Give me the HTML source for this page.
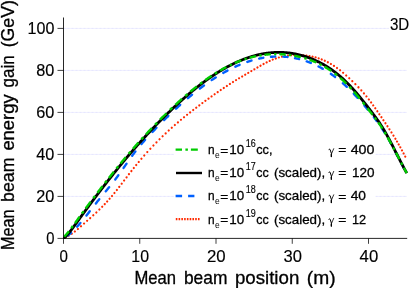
<!DOCTYPE html>
<html><head><meta charset="utf-8"><title>plot</title>
<style>html,body{margin:0;padding:0;background:#fff;overflow:hidden}body{width:409px;height:288px;position:relative;font-family:"Liberation Sans",sans-serif}</style></head>
<body>
<svg width="409" height="288" viewBox="0 0 409 288" style="position:absolute;left:0;top:0;display:block;will-change:transform">
<rect width="409" height="288" fill="#fff"/>
<line x1="63.5" x2="406.9" y1="196.40" y2="196.40" stroke="#f0f0ff" stroke-width="1"/>
<line x1="63.5" x2="406.9" y1="196.40" y2="196.40" stroke="#e6e6ff" stroke-width="1" stroke-dasharray="2 2"/>
<line x1="63.5" x2="406.9" y1="154.40" y2="154.40" stroke="#f0f0ff" stroke-width="1"/>
<line x1="63.5" x2="406.9" y1="154.40" y2="154.40" stroke="#e6e6ff" stroke-width="1" stroke-dasharray="2 2"/>
<line x1="63.5" x2="406.9" y1="112.40" y2="112.40" stroke="#f0f0ff" stroke-width="1"/>
<line x1="63.5" x2="406.9" y1="112.40" y2="112.40" stroke="#e6e6ff" stroke-width="1" stroke-dasharray="2 2"/>
<line x1="63.5" x2="406.9" y1="70.40" y2="70.40" stroke="#f0f0ff" stroke-width="1"/>
<line x1="63.5" x2="406.9" y1="70.40" y2="70.40" stroke="#e6e6ff" stroke-width="1" stroke-dasharray="2 2"/>
<line x1="63.5" x2="406.9" y1="28.40" y2="28.40" stroke="#f0f0ff" stroke-width="1"/>
<line x1="63.5" x2="406.9" y1="28.40" y2="28.40" stroke="#e6e6ff" stroke-width="1" stroke-dasharray="2 2"/>
<clipPath id="pc"><rect x="63" y="17" width="345" height="222"/></clipPath>
<g clip-path="url(#pc)" fill="none">
<path d="M65.64,237.46 L65.66,237.45 M68.71,235.83 L68.73,235.81 M71.78,233.81 L71.80,233.79 M74.85,231.49 L74.87,231.47 M77.92,228.96 L77.94,228.94 M80.99,226.29 L81.01,226.27 M84.06,223.57 L84.08,223.55 M87.13,220.84 L87.15,220.82 M90.20,218.10 L90.22,218.08 M93.27,215.31 L93.29,215.29 M96.34,212.46 L96.36,212.44 M99.38,209.55 L99.40,209.53 M102.19,206.76 L102.21,206.74 M104.75,204.11 L104.77,204.09 M107.17,201.51 L107.19,201.49 M109.59,198.79 L109.60,198.78 L109.61,198.77 M112.01,195.96 L112.03,195.94 M114.43,193.00 L114.45,192.98 M116.85,189.96 L116.87,189.94 M119.27,186.85 L119.29,186.83 M121.69,183.69 L121.71,183.67 M124.11,180.50 L124.13,180.48 M126.53,177.32 L126.55,177.29 M128.95,174.15 L128.97,174.13 M131.37,171.03 L131.39,171.00 M133.79,167.96 L133.81,167.94 M136.21,164.97 L136.23,164.95 M138.73,161.93 L138.75,161.91 M141.41,158.77 L141.43,158.75 M144.26,155.48 L144.28,155.46 M147.29,152.09 L147.31,152.07 M150.35,148.76 L150.37,148.74 M153.41,145.52 L153.43,145.50 M156.47,142.36 L156.49,142.34 M159.53,139.29 L159.55,139.27 M162.59,136.30 L162.60,136.29 L162.61,136.28 M165.65,133.38 L165.67,133.36 M168.71,130.54 L168.73,130.52 M171.77,127.77 L171.79,127.75 M174.83,125.06 L174.85,125.04 M177.89,122.42 L177.91,122.40 M180.95,119.83 L180.97,119.81 M184.01,117.30 L184.03,117.28 M187.07,114.82 L187.09,114.80 M190.13,112.39 L190.15,112.37 M193.19,110.01 L193.21,109.99 M196.25,107.66 L196.27,107.65 M199.31,105.36 L199.33,105.34 M202.37,103.09 L202.39,103.07 M205.43,100.84 L205.45,100.83 M208.49,98.63 L208.51,98.61 M211.55,96.44 L211.57,96.43 M214.61,94.28 L214.63,94.26 M217.67,92.15 L217.69,92.13 M220.73,90.05 L220.75,90.03 M223.79,87.98 L223.81,87.97 M226.85,85.96 L226.87,85.94 M229.91,83.97 L229.93,83.96 M232.97,82.03 L232.99,82.01 M236.03,80.13 L236.05,80.12 M239.09,78.28 L239.10,78.27 L239.11,78.27 M242.15,76.47 L242.17,76.45 M245.21,74.67 L245.23,74.66 M248.27,72.89 L248.29,72.88 M251.33,71.11 L251.35,71.10 M254.39,69.31 L254.41,69.30 M257.45,67.51 L257.47,67.50 M260.51,65.73 L260.53,65.72 M263.57,64.01 L263.59,64.00 M266.63,62.40 L266.65,62.38 M269.69,60.92 L269.71,60.91 M272.75,59.61 L272.77,59.60 M275.81,58.48 L275.83,58.47 M278.87,57.51 L278.89,57.51 M281.93,56.71 L281.95,56.71 M284.99,56.07 L285.01,56.07 M288.05,55.59 L288.07,55.59 M291.11,55.25 L291.13,55.25 M294.17,55.05 L294.19,55.05 M297.23,55.00 L297.25,55.00 M300.29,55.07 L300.31,55.07 M303.35,55.27 L303.37,55.27 M306.41,55.60 L306.43,55.60 M309.47,56.06 L309.49,56.06 M312.53,56.66 L312.55,56.67 M315.59,57.43 L315.60,57.43 L315.61,57.43 M318.65,58.35 L318.67,58.36 M321.71,59.46 L321.73,59.47 M324.77,60.75 L324.79,60.76 M327.83,62.23 L327.85,62.24 M330.89,63.92 L330.91,63.94 M333.95,65.83 L333.97,65.85 M337.01,67.96 L337.03,67.98 M340.07,70.29 L340.09,70.31 M343.13,72.80 L343.15,72.82 M346.19,75.46 L346.21,75.48 M349.25,78.25 L349.27,78.27 M352.31,81.15 L352.33,81.17 M355.37,84.14 L355.39,84.16 M358.42,87.25 L358.45,87.27 M361.29,90.33 L361.31,90.35 M363.92,93.33 L363.94,93.35 M366.45,96.37 L366.46,96.39 M368.85,99.43 L368.87,99.45 M371.12,102.44 L371.13,102.46 M373.23,105.37 L373.24,105.39 M375.27,108.28 L375.29,108.30 M377.32,111.24 L377.33,111.27 M379.35,114.23 L379.37,114.25 M381.39,117.22 L381.40,117.25 M383.41,120.22 L383.43,120.24 M385.44,123.22 L385.45,123.24 M387.46,126.24 L387.47,126.26 M389.47,129.30 L389.48,129.32 M391.48,132.42 L391.49,132.44 M393.48,135.60 L393.49,135.63 M395.38,138.72 L395.40,138.74 M397.06,141.54 L397.07,141.56 M398.70,144.40 L398.71,144.42 M400.35,147.34 L400.36,147.36 M401.98,150.35 L402.00,150.38 M403.62,153.45 L403.63,153.47 M405.25,156.62 L405.26,156.65" stroke="#ff2a00" stroke-width="2.2" stroke-linecap="round"/>
<path d="M67.75,235.57 L68.00,235.38 L68.50,234.98 L69.00,234.58 L69.50,234.16 L70.00,233.74 L70.50,233.30 L71.00,232.85 L71.05,232.81 M77.10,226.70 L77.50,226.27 L78.00,225.71 L78.50,225.14 L79.00,224.57 L79.50,223.99 L80.00,223.41 L80.40,222.95 M86.45,215.50 L86.50,215.44 L87.00,214.80 L87.50,214.17 L88.00,213.53 L88.50,212.89 L89.00,212.24 L89.50,211.60 L89.75,211.27 M95.85,203.45 L96.00,203.26 L96.50,202.63 L97.00,202.00 L97.50,201.37 L98.00,200.75 L98.50,200.13 L99.00,199.51 L99.26,199.19 M105.74,191.32 L106.00,191.00 L106.50,190.40 L107.00,189.79 L107.50,189.18 L108.00,188.57 L108.50,187.96 L109.00,187.35 L109.15,187.16 M115.25,179.46 L115.50,179.12 L116.00,178.46 L116.50,177.79 L117.00,177.12 L117.50,176.45 L118.00,175.76 L118.33,175.32 M123.57,167.92 L124.00,167.31 L124.50,166.59 L125.00,165.87 L125.50,165.16 L126.00,164.44 L126.50,163.72 L126.54,163.66 M132.21,155.70 L132.50,155.31 L133.00,154.63 L133.50,153.96 L134.00,153.30 L134.50,152.64 L135.00,151.99 L135.40,151.47 M141.45,144.04 L141.50,143.98 L142.00,143.40 L142.50,142.82 L143.00,142.24 L143.50,141.67 L144.00,141.11 L144.50,140.54 L145.00,139.98 L145.09,139.88 M152.41,132.00 L152.50,131.91 L153.00,131.38 L153.50,130.86 L154.00,130.34 L154.50,129.83 L155.00,129.31 L155.50,128.79 L156.00,128.28 L156.49,127.78 M164.16,120.04 L164.50,119.71 L165.00,119.22 L165.50,118.73 L166.00,118.24 L166.50,117.75 L167.00,117.26 L167.50,116.77 L168.00,116.29 L168.34,115.96 M176.01,108.70 L176.50,108.26 L177.00,107.80 L177.50,107.34 L178.00,106.88 L178.50,106.43 L179.00,105.97 L179.50,105.52 L180.00,105.07 L180.19,104.90 M187.91,98.17 L188.00,98.09 L188.50,97.67 L189.00,97.25 L189.50,96.83 L190.00,96.41 L190.50,96.00 L191.00,95.58 L191.50,95.17 L192.00,94.76 L192.09,94.68 M199.81,88.59 L200.00,88.44 L200.50,88.06 L201.00,87.68 L201.50,87.31 L202.00,86.93 L202.50,86.56 L203.00,86.19 L203.50,85.83 L203.99,85.47 M211.66,80.10 L212.00,79.87 L212.50,79.54 L213.00,79.21 L213.50,78.88 L214.00,78.56 L214.50,78.23 L215.00,77.91 L215.50,77.59 L215.78,77.41 M223.27,72.90 L223.50,72.77 L224.00,72.49 L224.50,72.21 L225.00,71.93 L225.50,71.65 L226.00,71.38 L226.50,71.11 L227.00,70.84 L227.45,70.60 M235.35,66.69 L235.50,66.62 L236.00,66.39 L236.50,66.17 L237.00,65.94 L237.50,65.73 L238.00,65.51 L238.50,65.29 L239.00,65.08 L239.50,64.87 L239.59,64.83 M247.31,61.91 L247.50,61.84 L248.00,61.67 L248.50,61.51 L249.00,61.35 L249.50,61.19 L250.00,61.03 L250.50,60.87 L251.00,60.72 L251.49,60.58 M259.16,58.60 L259.50,58.53 L260.00,58.42 L260.50,58.32 L261.00,58.22 L261.50,58.13 L262.00,58.03 L262.50,57.94 L263.00,57.85 L263.32,57.80 M270.93,56.82 L271.00,56.81 L271.50,56.77 L272.00,56.73 L272.50,56.69 L273.00,56.66 L273.50,56.63 L274.00,56.60 L274.50,56.58 L275.00,56.56 L275.22,56.55 M283.38,56.64 L283.50,56.65 L284.00,56.68 L284.50,56.71 L285.00,56.75 L285.50,56.79 L286.00,56.84 L286.50,56.88 L287.00,56.93 L287.50,56.99 L287.61,57.00 M294.99,58.15 L295.00,58.15 L295.50,58.25 L296.00,58.36 L296.50,58.47 L297.00,58.58 L297.50,58.69 L298.00,58.81 L298.50,58.93 L299.00,59.06 L299.07,59.08 M306.68,61.38 L307.00,61.49 L307.50,61.67 L308.00,61.86 L308.50,62.04 L309.00,62.23 L309.50,62.43 L310.00,62.62 L310.50,62.82 L310.84,62.96 M318.51,66.49 L319.00,66.74 L319.50,67.00 L320.00,67.26 L320.50,67.53 L321.00,67.80 L321.50,68.08 L322.00,68.36 L322.50,68.64 L322.78,68.80 M330.82,73.86 L331.00,73.98 L331.50,74.33 L332.00,74.68 L332.50,75.03 L333.00,75.39 L333.50,75.76 L334.00,76.12 L334.50,76.49 L335.00,76.87 L335.09,76.94 M342.81,83.22 L343.00,83.39 L343.50,83.83 L344.00,84.28 L344.50,84.73 L345.00,85.18 L345.50,85.64 L346.00,86.10 L346.50,86.57 L346.79,86.84 M353.73,93.76 L354.00,94.04 L354.50,94.56 L355.00,95.09 L355.50,95.62 L356.00,96.16 L356.50,96.70 L357.00,97.24 L357.50,97.79 L357.51,97.80 M364.45,105.66 L364.50,105.73 L365.00,106.31 L365.50,106.90 L366.00,107.49 L366.50,108.08 L367.00,108.68 L367.50,109.28 L367.93,109.79 M373.80,117.12 L374.00,117.39 L374.50,118.04 L375.00,118.70 L375.50,119.36 L376.00,120.04 L376.50,120.71 L376.75,121.06 M381.78,128.24 L382.00,128.58 L382.50,129.33 L383.00,130.10 L383.50,130.87 L384.00,131.66 L384.38,132.25 M388.92,139.82 L389.00,139.97 L389.50,140.85 L390.00,141.74 L390.50,142.65 L391.00,143.56 L391.29,144.10 M395.50,152.10 L396.00,153.07 L396.50,154.04 L397.00,155.01 L397.50,155.98 L397.74,156.44 M401.76,164.17 L402.00,164.62 L402.50,165.56 L403.00,166.48 L403.50,167.40 L403.94,168.20" stroke="#0060ff" stroke-width="2.4" stroke-linecap="round"/>
<path d="M63.50,238.40 L64.00,237.99 L64.50,237.57 L65.00,237.12 L65.50,236.64 L66.00,236.15 L66.50,235.64 L67.00,235.11 L67.50,234.56 L68.00,233.99 L68.50,233.41 L69.00,232.82 L69.50,232.21 L70.00,231.59 L70.50,230.96 L71.00,230.32 L71.50,229.66 L72.00,229.00 L72.50,228.33 L73.00,227.66 L73.50,226.98 L74.00,226.29 L74.50,225.60 L75.00,224.91 L75.50,224.22 L76.00,223.52 L76.50,222.83 L77.00,222.13 L77.50,221.44 L78.00,220.75 L78.50,220.06 L79.00,219.37 L79.50,218.68 L80.00,217.99 L80.50,217.30 L81.00,216.61 L81.50,215.92 L82.00,215.24 L82.50,214.55 L83.00,213.86 L83.50,213.18 L84.00,212.50 L84.50,211.81 L85.00,211.13 L85.50,210.45 L86.00,209.77 L86.50,209.09 L87.00,208.41 L87.50,207.74 L88.00,207.06 L88.50,206.38 L89.00,205.71 L89.50,205.03 L90.00,204.36 L90.50,203.69 L91.00,203.01 L91.50,202.34 L92.00,201.67 L92.50,201.00 L93.00,200.34 L93.50,199.67 L94.00,199.00 L94.50,198.34 L95.00,197.67 L95.50,197.01 L96.00,196.34 L96.50,195.68 L97.00,195.02 L97.50,194.36 L98.00,193.70 L98.50,193.04 L99.00,192.38 L99.50,191.73 L100.00,191.07 L100.50,190.42 L101.00,189.76 L101.50,189.11 L102.00,188.46 L102.50,187.81 L103.00,187.16 L103.50,186.51 L104.00,185.86 L104.50,185.21 L105.00,184.57 L105.50,183.92 L106.00,183.28 L106.50,182.64 L107.00,182.00 L107.50,181.35 L108.00,180.72 L108.50,180.08 L109.00,179.44 L109.50,178.80 L110.00,178.17 L110.50,177.53 L111.00,176.90 L111.50,176.27 L112.00,175.64 L112.50,175.01 L113.00,174.38 L113.50,173.75 L114.00,173.13 L114.50,172.50 L115.00,171.88 L115.50,171.26 L116.00,170.63 L116.50,170.01 L117.00,169.39 L117.50,168.78 L118.00,168.16 L118.50,167.54 L119.00,166.93 L119.50,166.32 L120.00,165.71 L120.50,165.09 L121.00,164.49 L121.50,163.88 L122.00,163.27 L122.50,162.66 L123.00,162.06 L123.50,161.46 L124.00,160.86 L124.50,160.26 L125.00,159.66 L125.50,159.06 L126.00,158.46 L126.50,157.87 L127.00,157.27 L127.50,156.68 L128.00,156.09 L128.50,155.50 L129.00,154.91 L129.50,154.32 L130.00,153.74 L130.50,153.15 L131.00,152.57 L131.50,151.99 L132.00,151.41 L132.50,150.83 L133.00,150.25 L133.50,149.68 L134.00,149.10 L134.50,148.53 L135.00,147.96 L135.50,147.39 L136.00,146.82 L136.50,146.25 L137.00,145.68 L137.50,145.12 L138.00,144.55 L138.50,143.99 L139.00,143.43 L139.50,142.87 L140.00,142.31 L140.50,141.75 L141.00,141.20 L141.50,140.64 L142.00,140.09 L142.50,139.54 L143.00,138.99 L143.50,138.44 L144.00,137.89 L144.50,137.34 L145.00,136.80 L145.50,136.25 L146.00,135.71 L146.50,135.17 L147.00,134.63 L147.50,134.09 L148.00,133.55 L148.50,133.02 L149.00,132.48 L149.50,131.95 L150.00,131.42 L150.50,130.88 L151.00,130.36 L151.50,129.83 L152.00,129.30 L152.50,128.77 L153.00,128.25 L153.50,127.73 L154.00,127.20 L154.50,126.68 L155.00,126.16 L155.50,125.64 L156.00,125.13 L156.50,124.61 L157.00,124.10 L157.50,123.58 L158.00,123.07 L158.50,122.56 L159.00,122.05 L159.50,121.54 L160.00,121.04 L160.50,120.53 L161.00,120.03 L161.50,119.52 L162.00,119.02 L162.50,118.52 L163.00,118.02 L163.50,117.52 L164.00,117.02 L164.50,116.53 L165.00,116.03 L165.50,115.54 L166.00,115.05 L166.50,114.56 L167.00,114.07 L167.50,113.58 L168.00,113.09 L168.50,112.60 L169.00,112.12 L169.50,111.64 L170.00,111.15 L170.50,110.67 L171.00,110.19 L171.50,109.71 L172.00,109.23 L172.50,108.76 L173.00,108.28 L173.50,107.81 L174.00,107.34 L174.50,106.86 L175.00,106.40 L175.50,105.93 L176.00,105.46 L176.50,104.99 L177.00,104.53 L177.50,104.07 L178.00,103.61 L178.50,103.15 L179.00,102.69 L179.50,102.23 L180.00,101.78 L180.50,101.32 L181.00,100.87 L181.50,100.42 L182.00,99.97 L182.50,99.52 L183.00,99.08 L183.50,98.63 L184.00,98.19 L184.50,97.75 L185.00,97.31 L185.50,96.87 L186.00,96.44 L186.50,96.00 L187.00,95.57 L187.50,95.14 L188.00,94.71 L188.50,94.28 L189.00,93.86 L189.50,93.43 L190.00,93.01 L190.50,92.59 L191.00,92.17 L191.50,91.75 L192.00,91.34 L192.50,90.92 L193.00,90.51 L193.50,90.10 L194.00,89.69 L194.50,89.29 L195.00,88.88 L195.50,88.48 L196.00,88.08 L196.50,87.68 L197.00,87.28 L197.50,86.88 L198.00,86.49 L198.50,86.10 L199.00,85.71 L199.50,85.32 L200.00,84.93 L200.50,84.55 L201.00,84.17 L201.50,83.79 L202.00,83.41 L202.50,83.03 L203.00,82.66 L203.50,82.28 L204.00,81.91 L204.50,81.54 L205.00,81.18 L205.50,80.81 L206.00,80.45 L206.50,80.09 L207.00,79.73 L207.50,79.37 L208.00,79.01 L208.50,78.66 L209.00,78.31 L209.50,77.96 L210.00,77.61 L210.50,77.27 L211.00,76.92 L211.50,76.58 L212.00,76.24 L212.50,75.91 L213.00,75.57 L213.50,75.24 L214.00,74.91 L214.50,74.58 L215.00,74.25 L215.50,73.93 L216.00,73.61 L216.50,73.29 L217.00,72.97 L217.50,72.65 L218.00,72.34 L218.50,72.03 L219.00,71.72 L219.50,71.41 L220.00,71.10 L220.50,70.80 L221.00,70.50 L221.50,70.20 L222.00,69.90 L222.50,69.61 L223.00,69.32 L223.50,69.03 L224.00,68.74 L224.50,68.46 L225.00,68.17 L225.50,67.89 L226.00,67.61 L226.50,67.34 L227.00,67.06 L227.50,66.79 L228.00,66.52 L228.50,66.26 L229.00,65.99 L229.50,65.73 L230.00,65.47 L230.50,65.21 L231.00,64.96 L231.50,64.70 L232.00,64.45 L232.50,64.20 L233.00,63.96 L233.50,63.71 L234.00,63.47 L234.50,63.23 L235.00,63.00 L235.50,62.76 L236.00,62.53 L236.50,62.30 L237.00,62.08 L237.50,61.85 L238.00,61.63 L238.50,61.41 L239.00,61.19 L239.50,60.98 L240.00,60.77 L240.50,60.56 L241.00,60.35 L241.50,60.15 L242.00,59.94 L242.50,59.74 L243.00,59.55 L243.50,59.35 L244.00,59.16 L244.50,58.97 L245.00,58.78 L245.50,58.60 L246.00,58.42 L246.50,58.24 L247.00,58.06 L247.50,57.89 L248.00,57.72 L248.50,57.55 L249.00,57.38 L249.50,57.22 L250.00,57.06 L250.50,56.90 L251.00,56.74 L251.50,56.59 L252.00,56.44 L252.50,56.29 L253.00,56.15 L253.50,56.01 L254.00,55.87 L254.50,55.73 L255.00,55.59 L255.50,55.46 L256.00,55.33 L256.50,55.21 L257.00,55.08 L257.50,54.96 L258.00,54.84 L258.50,54.73 L259.00,54.61 L259.50,54.50 L260.00,54.40 L260.50,54.29 L261.00,54.19 L261.50,54.09 L262.00,53.99 L262.50,53.90 L263.00,53.81 L263.50,53.72 L264.00,53.63 L264.50,53.55 L265.00,53.47 L265.50,53.39 L266.00,53.32 L266.50,53.24 L267.00,53.17 L267.50,53.11 L268.00,53.04 L268.50,52.98 L269.00,52.92 L269.50,52.87 L270.00,52.82 L270.50,52.77 L271.00,52.72 L271.50,52.68 L272.00,52.64 L272.50,52.60 L273.00,52.56 L273.50,52.53 L274.00,52.50 L274.50,52.47 L275.00,52.45 L275.50,52.43 L276.00,52.41 L276.50,52.39 L277.00,52.38 L277.50,52.37 L278.00,52.36 L278.50,52.36 L279.00,52.36 L279.50,52.36 L280.00,52.36 L280.50,52.37 L281.00,52.38 L281.50,52.40 L282.00,52.41 L282.50,52.43 L283.00,52.45 L283.50,52.48 L284.00,52.51 L284.50,52.54 L285.00,52.57 L285.50,52.61 L286.00,52.65 L286.50,52.69 L287.00,52.74 L287.50,52.79 L288.00,52.84 L288.50,52.89 L289.00,52.95 L289.50,53.01 L290.00,53.08 L290.50,53.14 L291.00,53.21 L291.50,53.29 L292.00,53.36 L292.50,53.44 L293.00,53.52 L293.50,53.61 L294.00,53.70 L294.50,53.79 L295.00,53.88 L295.50,53.98 L296.00,54.08 L296.50,54.19 L297.00,54.29 L297.50,54.40 L298.00,54.51 L298.50,54.63 L299.00,54.75 L299.50,54.87 L300.00,55.00 L300.50,55.13 L301.00,55.26 L301.50,55.39 L302.00,55.53 L302.50,55.67 L303.00,55.81 L303.50,55.96 L304.00,56.11 L304.50,56.27 L305.00,56.42 L305.50,56.58 L306.00,56.74 L306.50,56.91 L307.00,57.08 L307.50,57.25 L308.00,57.43 L308.50,57.61 L309.00,57.79 L309.50,57.97 L310.00,58.16 L310.50,58.36 L311.00,58.55 L311.50,58.75 L312.00,58.95 L312.50,59.15 L313.00,59.36 L313.50,59.57 L314.00,59.79 L314.50,60.01 L315.00,60.23 L315.50,60.45 L316.00,60.68 L316.50,60.91 L317.00,61.15 L317.50,61.38 L318.00,61.63 L318.50,61.87 L319.00,62.12 L319.50,62.37 L320.00,62.63 L320.50,62.89 L321.00,63.15 L321.50,63.42 L322.00,63.69 L322.50,63.97 L323.00,64.25 L323.50,64.53 L324.00,64.82 L324.50,65.11 L325.00,65.40 L325.50,65.70 L326.00,66.00 L326.50,66.31 L327.00,66.62 L327.50,66.93 L328.00,67.25 L328.50,67.58 L329.00,67.90 L329.50,68.23 L330.00,68.57 L330.50,68.91 L331.00,69.25 L331.50,69.60 L332.00,69.95 L332.50,70.31 L333.00,70.67 L333.50,71.04 L334.00,71.41 L334.50,71.78 L335.00,72.16 L335.50,72.55 L336.00,72.93 L336.50,73.33 L337.00,73.73 L337.50,74.13 L338.00,74.53 L338.50,74.95 L339.00,75.36 L339.50,75.78 L340.00,76.21 L340.50,76.64 L341.00,77.08 L341.50,77.52 L342.00,77.96 L342.50,78.41 L343.00,78.87 L343.50,79.33 L344.00,79.79 L344.50,80.27 L345.00,80.74 L345.50,81.22 L346.00,81.71 L346.50,82.20 L347.00,82.70 L347.50,83.20 L348.00,83.70 L348.50,84.22 L349.00,84.73 L349.50,85.25 L350.00,85.78 L350.50,86.31 L351.00,86.85 L351.50,87.39 L352.00,87.93 L352.50,88.48 L353.00,89.04 L353.50,89.59 L354.00,90.16 L354.50,90.72 L355.00,91.29 L355.50,91.87 L356.00,92.45 L356.50,93.03 L357.00,93.61 L357.50,94.20 L358.00,94.79 L358.50,95.39 L359.00,95.99 L359.50,96.59 L360.00,97.20 L360.50,97.81 L361.00,98.42 L361.50,99.04 L362.00,99.65 L362.50,100.27 L363.00,100.90 L363.50,101.52 L364.00,102.15 L364.50,102.78 L365.00,103.42 L365.50,104.05 L366.00,104.69 L366.50,105.33 L367.00,105.97 L367.50,106.62 L368.00,107.26 L368.50,107.91 L369.00,108.56 L369.50,109.21 L370.00,109.86 L370.50,110.52 L371.00,111.17 L371.50,111.83 L372.00,112.49 L372.50,113.15 L373.00,113.81 L373.50,114.48 L374.00,115.15 L374.50,115.82 L375.00,116.50 L375.50,117.18 L376.00,117.87 L376.50,118.56 L377.00,119.26 L377.50,119.97 L378.00,120.68 L378.50,121.41 L379.00,122.14 L379.50,122.88 L380.00,123.64 L380.50,124.40 L381.00,125.17 L381.50,125.96 L382.00,126.76 L382.50,127.57 L383.00,128.39 L383.50,129.22 L384.00,130.06 L384.50,130.92 L385.00,131.78 L385.50,132.66 L386.00,133.54 L386.50,134.44 L387.00,135.34 L387.50,136.25 L388.00,137.16 L388.50,138.09 L389.00,139.02 L389.50,139.95 L390.00,140.90 L390.50,141.85 L391.00,142.80 L391.50,143.76 L392.00,144.72 L392.50,145.69 L393.00,146.66 L393.50,147.63 L394.00,148.61 L394.50,149.59 L395.00,150.57 L395.50,151.55 L396.00,152.53 L396.50,153.51 L397.00,154.50 L397.50,155.48 L398.00,156.46 L398.50,157.44 L399.00,158.42 L399.50,159.40 L400.00,160.38 L400.50,161.35 L401.00,162.32 L401.50,163.28 L402.00,164.24 L402.50,165.20 L403.00,166.15 L403.50,167.10 L404.00,168.04 L404.50,168.98 L405.00,169.91 L405.50,170.83 L406.00,171.74 L406.50,172.65 L406.75,173.10" stroke="#000" stroke-width="2.8"/>
<path d="M64.29,236.55 L64.50,236.35 L65.00,235.84 L65.50,235.32 L66.00,234.78 L66.50,234.22 L67.00,233.65 L67.50,233.06 L68.00,232.46 L68.50,231.84 L68.91,231.33 M71.29,228.22 L71.50,227.93 L72.00,227.25 L72.50,226.57 L72.89,226.02 M74.99,223.12 L75.00,223.11 L75.50,222.41 L76.00,221.72 L76.50,221.02 L77.00,220.33 L77.50,219.64 L78.00,218.95 L78.50,218.26 L79.00,217.57 L79.50,216.88 L79.61,216.74 M81.99,213.47 L82.00,213.45 L82.50,212.77 L83.00,212.09 L83.50,211.41 L83.59,211.28 M85.69,208.42 L86.00,208.01 L86.50,207.33 L87.00,206.65 L87.50,205.98 L88.00,205.30 L88.50,204.63 L89.00,203.96 L89.50,203.28 L90.00,202.61 L90.50,201.94 L90.59,201.82 M93.25,198.26 L93.50,197.94 L94.00,197.27 L94.50,196.61 L95.00,195.95 L95.06,195.87 M97.41,192.76 L97.50,192.65 L98.00,191.99 L98.50,191.33 L99.00,190.68 L99.50,190.02 L100.00,189.37 L100.50,188.72 L101.00,188.07 L101.50,187.42 L102.00,186.77 L102.43,186.22 M104.93,182.99 L105.00,182.89 L105.50,182.25 L106.00,181.61 L106.50,180.97 L106.62,180.82 M108.82,178.01 L109.00,177.79 L109.50,177.15 L110.00,176.52 L110.50,175.89 L111.00,175.26 L111.50,174.63 L112.00,174.00 L112.50,173.38 L113.00,172.75 L113.50,172.13 L113.81,171.75 M116.44,168.48 L116.50,168.41 L117.00,167.79 L117.50,167.18 L118.00,166.56 L118.22,166.29 M120.54,163.46 L121.00,162.91 L121.50,162.30 L122.00,161.70 L122.50,161.10 L123.00,160.50 L123.50,159.90 L124.00,159.30 L124.50,158.70 L125.00,158.10 L125.50,157.51 L125.80,157.16 M128.57,153.89 L129.00,153.39 L129.50,152.80 L130.00,152.22 L130.45,151.70 M132.90,148.87 L133.00,148.76 L133.50,148.19 L134.00,147.61 L134.50,147.04 L135.00,146.48 L135.50,145.91 L136.00,145.34 L136.50,144.78 L137.00,144.22 L137.50,143.65 L138.00,143.09 L138.44,142.61 M141.36,139.36 L141.50,139.21 L142.00,138.66 L142.50,138.11 L143.00,137.56 L143.34,137.20 M145.91,134.40 L146.00,134.31 L146.50,133.77 L147.00,133.23 L147.50,132.70 L148.00,132.16 L148.50,131.63 L149.00,131.10 L149.50,130.57 L150.00,130.04 L150.50,129.51 L151.00,128.98 L151.50,128.46 L151.85,128.10 M155.03,124.78 L155.50,124.30 L156.00,123.79 L156.50,123.28 L157.00,122.77 L157.19,122.57 M160.00,119.72 L160.50,119.22 L161.00,118.72 L161.50,118.22 L162.00,117.72 L162.50,117.22 L163.00,116.73 L163.50,116.23 L164.00,115.74 L164.50,115.25 L165.00,114.75 L165.50,114.26 L166.00,113.77 L166.48,113.31 M169.95,109.95 L170.00,109.91 L170.50,109.43 L171.00,108.95 L171.50,108.48 L172.00,108.00 L172.31,107.71 M175.37,104.84 L175.50,104.72 L176.00,104.26 L176.50,103.80 L177.00,103.34 L177.50,102.88 L178.00,102.42 L178.50,101.96 L179.00,101.51 L179.50,101.06 L180.00,100.61 L180.50,100.16 L181.00,99.71 L181.50,99.26 L181.95,98.87 M185.24,95.98 L185.50,95.76 L186.00,95.32 L186.50,94.90 L187.00,94.47 L187.47,94.07 M190.37,91.63 L190.50,91.52 L191.00,91.11 L191.50,90.70 L192.00,90.29 L192.50,89.88 L193.00,89.48 L193.50,89.07 L194.00,88.67 L194.50,88.27 L195.00,87.87 L195.50,87.47 L196.00,87.08 L196.50,86.69 L196.77,86.48 M200.06,83.94 L200.50,83.61 L201.00,83.24 L201.50,82.86 L202.00,82.49 L202.29,82.28 M205.19,80.17 L205.50,79.95 L206.00,79.59 L206.50,79.24 L207.00,78.89 L207.50,78.54 L208.00,78.20 L208.50,77.85 L209.00,77.51 L209.50,77.17 L210.00,76.83 L210.50,76.50 L211.00,76.16 L211.50,75.83 L211.59,75.77 M214.88,73.65 L215.00,73.57 L215.50,73.26 L216.00,72.95 L216.50,72.64 L217.00,72.33 L217.11,72.27 M220.01,70.54 L220.50,70.25 L221.00,69.97 L221.50,69.68 L222.00,69.40 L222.50,69.12 L223.00,68.84 L223.50,68.56 L224.00,68.29 L224.50,68.02 L225.00,67.75 L225.50,67.49 L226.00,67.22 L226.41,67.01 M229.70,65.35 L230.00,65.21 L230.50,64.97 L231.00,64.73 L231.50,64.49 L231.93,64.29 M234.83,62.99 L235.00,62.92 L235.50,62.70 L236.00,62.49 L236.50,62.28 L237.00,62.07 L237.50,61.87 L238.00,61.67 L238.50,61.47 L239.00,61.27 L239.50,61.08 L240.00,60.89 L240.50,60.70 L241.00,60.52 L241.23,60.43 M244.52,59.29 L245.00,59.13 L245.50,58.97 L246.00,58.81 L246.50,58.65 L246.75,58.58 M249.65,57.73 L250.00,57.64 L250.50,57.50 L251.00,57.37 L251.50,57.24 L252.00,57.11 L252.50,56.99 L253.00,56.87 L253.50,56.75 L254.00,56.63 L254.50,56.52 L255.00,56.41 L255.50,56.30 L256.00,56.20 L256.05,56.19 M259.34,55.56 L259.50,55.53 L260.00,55.45 L260.50,55.37 L261.00,55.29 L261.50,55.21 L261.57,55.20 M264.47,54.81 L264.50,54.81 L265.00,54.75 L265.50,54.69 L266.00,54.64 L266.50,54.59 L267.00,54.54 L267.50,54.50 L268.00,54.45 L268.50,54.41 L269.00,54.37 L269.50,54.34 L270.00,54.30 L270.50,54.27 L270.87,54.25 M274.16,54.13 L274.50,54.12 L275.00,54.11 L275.50,54.11 L276.00,54.10 L276.39,54.10 M279.29,54.15 L279.50,54.15 L280.00,54.17 L280.50,54.19 L281.00,54.21 L281.50,54.23 L282.00,54.26 L282.50,54.29 L283.00,54.32 L283.50,54.36 L284.00,54.39 L284.50,54.43 L285.00,54.48 L285.50,54.52 L285.73,54.54 M289.06,54.91 L289.50,54.97 L290.00,55.04 L290.50,55.11 L291.00,55.18 L291.32,55.23 M294.26,55.72 L294.50,55.76 L295.00,55.86 L295.50,55.95 L296.00,56.05 L296.50,56.16 L297.00,56.26 L297.50,56.37 L298.00,56.48 L298.50,56.59 L299.00,56.71 L299.50,56.83 L300.00,56.95 L300.50,57.07 L300.84,57.16 M304.29,58.11 L304.50,58.17 L305.00,58.32 L305.50,58.48 L306.00,58.63 L306.50,58.79 L306.62,58.83 M309.66,59.87 L310.00,59.99 L310.50,60.17 L311.00,60.36 L311.50,60.55 L312.00,60.75 L312.50,60.94 L313.00,61.14 L313.50,61.34 L314.00,61.55 L314.50,61.76 L315.00,61.97 L315.50,62.19 L316.00,62.41 L316.19,62.50 M319.48,64.04 L319.50,64.05 L320.00,64.30 L320.50,64.55 L321.00,64.81 L321.50,65.07 L321.71,65.18 M324.61,66.78 L325.00,67.00 L325.50,67.30 L326.00,67.59 L326.50,67.89 L327.00,68.20 L327.50,68.51 L328.00,68.82 L328.50,69.14 L329.00,69.46 L329.50,69.79 L330.00,70.12 L330.50,70.46 L331.00,70.80 L331.19,70.93 M334.68,73.45 L335.00,73.69 L335.50,74.08 L336.00,74.46 L336.50,74.86 L337.00,75.25 L337.04,75.28 M340.11,77.84 L340.50,78.18 L341.00,78.62 L341.50,79.06 L342.00,79.51 L342.50,79.96 L343.00,80.42 L343.50,80.88 L344.00,81.35 L344.50,81.83 L345.00,82.31 L345.50,82.79 L346.00,83.28 L346.39,83.67 M349.37,86.72 L349.50,86.86 L350.00,87.40 L350.50,87.93 L351.00,88.47 L351.38,88.89 M354.01,91.82 L354.50,92.38 L355.00,92.95 L355.50,93.53 L356.00,94.12 L356.50,94.70 L357.00,95.29 L357.50,95.89 L358.00,96.48 L358.50,97.08 L359.00,97.69 L359.50,98.29 L359.77,98.62 M362.72,102.27 L363.00,102.62 L363.50,103.25 L364.00,103.88 L364.50,104.51 L364.72,104.80 M367.33,108.15 L367.50,108.36 L368.00,109.01 L368.50,109.66 L369.00,110.31 L369.50,110.97 L370.00,111.62 L370.50,112.24 L371.00,112.87 L371.50,113.50 L372.00,114.13 L372.42,114.66 M374.71,117.61 L375.00,117.99 L375.50,118.65 L376.00,119.32 L376.26,119.67 M378.28,122.45 L378.50,122.77 L379.00,123.48 L379.50,124.21 L380.00,124.94 L380.50,125.68 L381.00,126.44 L381.50,127.21 L382.00,127.98 L382.46,128.71 M384.48,131.99 L384.50,132.02 L385.00,132.85 L385.50,133.70 L385.85,134.30 M387.64,137.39 L388.00,138.03 L388.50,138.92 L389.00,139.81 L389.50,140.71 L390.00,141.61 L390.50,142.52 L391.00,143.43 L391.36,144.09 M393.17,147.43 L393.50,148.05 L394.00,148.98 L394.39,149.71 M395.99,152.70 L396.00,152.72 L396.50,153.65 L397.00,154.59 L397.50,155.53 L398.00,156.47 L398.50,157.45 L399.00,158.43 L399.42,159.25 M401.14,162.60 L401.50,163.29 L402.00,164.25 L402.31,164.84 M403.83,167.72 L404.00,168.04 L404.50,168.98 L405.00,169.91 L405.50,170.83 L406.00,171.74 L406.50,172.65 L406.75,173.10" stroke="#00cc00" stroke-width="2.4"/>
</g>
<rect x="174" y="136" width="201.5" height="97" fill="#fff"/>
<rect x="388.8" y="16" width="21" height="18" fill="#fff"/>
<line x1="63.5" x2="63.5" y1="17.5" y2="238.8" stroke="#000" stroke-width="0.85"/>
<line x1="63.0" x2="407.2" y1="238.4" y2="238.4" stroke="#000" stroke-width="0.85"/>
<line x1="57.5" x2="63.5" y1="238.40" y2="238.40" stroke="#000" stroke-width="0.75"/>
<line x1="57.5" x2="63.5" y1="196.40" y2="196.40" stroke="#000" stroke-width="0.75"/>
<line x1="57.5" x2="63.5" y1="154.40" y2="154.40" stroke="#000" stroke-width="0.75"/>
<line x1="57.5" x2="63.5" y1="112.40" y2="112.40" stroke="#000" stroke-width="0.75"/>
<line x1="57.5" x2="63.5" y1="70.40" y2="70.40" stroke="#000" stroke-width="0.75"/>
<line x1="57.5" x2="63.5" y1="28.40" y2="28.40" stroke="#000" stroke-width="0.75"/>
<line x1="63.50" x2="63.50" y1="238.4" y2="243.8" stroke="#000" stroke-width="0.75"/>
<line x1="139.75" x2="139.75" y1="238.4" y2="243.8" stroke="#000" stroke-width="0.75"/>
<line x1="216.00" x2="216.00" y1="238.4" y2="243.8" stroke="#000" stroke-width="0.75"/>
<line x1="292.25" x2="292.25" y1="238.4" y2="243.8" stroke="#000" stroke-width="0.75"/>
<line x1="368.50" x2="368.50" y1="238.4" y2="243.8" stroke="#000" stroke-width="0.75"/>
<text x="46.20" y="243.85" font-size="16.2" font-family="Liberation Sans, sans-serif" fill="#000" stroke="#000" stroke-width="0.15" textLength="8.22" lengthAdjust="spacingAndGlyphs">0</text>
<text x="36.30" y="201.85" font-size="16.2" font-family="Liberation Sans, sans-serif" fill="#000" stroke="#000" stroke-width="0.15" textLength="18.10" lengthAdjust="spacingAndGlyphs">20</text>
<text x="36.30" y="159.85" font-size="16.2" font-family="Liberation Sans, sans-serif" fill="#000" stroke="#000" stroke-width="0.15" textLength="18.10" lengthAdjust="spacingAndGlyphs">40</text>
<text x="36.30" y="117.85" font-size="16.2" font-family="Liberation Sans, sans-serif" fill="#000" stroke="#000" stroke-width="0.15" textLength="18.10" lengthAdjust="spacingAndGlyphs">60</text>
<text x="36.30" y="75.85" font-size="16.2" font-family="Liberation Sans, sans-serif" fill="#000" stroke="#000" stroke-width="0.15" textLength="18.10" lengthAdjust="spacingAndGlyphs">80</text>
<text x="27.60" y="33.85" font-size="16.2" font-family="Liberation Sans, sans-serif" fill="#000" stroke="#000" stroke-width="0.15" textLength="26.82" lengthAdjust="spacingAndGlyphs">100</text>
<text x="59.60" y="261.60" font-size="16.2" font-family="Liberation Sans, sans-serif" fill="#000" stroke="#000" stroke-width="0.15" textLength="8.42" lengthAdjust="spacingAndGlyphs">0</text>
<text x="131.30" y="261.60" font-size="16.2" font-family="Liberation Sans, sans-serif" fill="#000" stroke="#000" stroke-width="0.15" textLength="17.70" lengthAdjust="spacingAndGlyphs">10</text>
<text x="206.90" y="261.60" font-size="16.2" font-family="Liberation Sans, sans-serif" fill="#000" stroke="#000" stroke-width="0.15" textLength="18.70" lengthAdjust="spacingAndGlyphs">20</text>
<text x="283.50" y="261.60" font-size="16.2" font-family="Liberation Sans, sans-serif" fill="#000" stroke="#000" stroke-width="0.15" textLength="18.40" lengthAdjust="spacingAndGlyphs">30</text>
<text x="359.60" y="261.60" font-size="16.2" font-family="Liberation Sans, sans-serif" fill="#000" stroke="#000" stroke-width="0.15" textLength="18.60" lengthAdjust="spacingAndGlyphs">40</text>
<text x="389.90" y="30.40" font-size="16.2" font-family="Liberation Sans, sans-serif" fill="#000" stroke="#000" stroke-width="0.15" textLength="19.31" lengthAdjust="spacingAndGlyphs">3D</text>
<text x="134.40" y="283.70" font-size="17.8" font-family="Liberation Sans, sans-serif" fill="#000" stroke="#000" stroke-width="0.3" textLength="41.58" lengthAdjust="spacingAndGlyphs">Mean</text>
<text x="183.90" y="283.70" font-size="17.8" font-family="Liberation Sans, sans-serif" fill="#000" stroke="#000" stroke-width="0.3" textLength="43.48" lengthAdjust="spacingAndGlyphs">beam</text>
<text x="234.90" y="283.70" font-size="17.8" font-family="Liberation Sans, sans-serif" fill="#000" stroke="#000" stroke-width="0.3" textLength="64.39" lengthAdjust="spacingAndGlyphs">position</text>
<text x="306.80" y="283.70" font-size="17.8" font-family="Liberation Sans, sans-serif" fill="#000" stroke="#000" stroke-width="0.3" textLength="28.78" lengthAdjust="spacingAndGlyphs">(m)</text>
<text transform="translate(13.70,250.00) rotate(-90)" font-size="17.8" font-family="Liberation Sans, sans-serif" fill="#000" stroke="#000" stroke-width="0.3" textLength="40.58" lengthAdjust="spacingAndGlyphs">Mean</text>
<text transform="translate(13.70,201.90) rotate(-90)" font-size="17.8" font-family="Liberation Sans, sans-serif" fill="#000" stroke="#000" stroke-width="0.3" textLength="44.38" lengthAdjust="spacingAndGlyphs">beam</text>
<text transform="translate(13.70,150.60) rotate(-90)" font-size="17.8" font-family="Liberation Sans, sans-serif" fill="#000" stroke="#000" stroke-width="0.3" textLength="56.20" lengthAdjust="spacingAndGlyphs">energy</text>
<text transform="translate(13.70,87.50) rotate(-90)" font-size="17.8" font-family="Liberation Sans, sans-serif" fill="#000" stroke="#000" stroke-width="0.3" textLength="32.11" lengthAdjust="spacingAndGlyphs">gain</text>
<text transform="translate(13.70,47.25) rotate(-90)" font-size="17.8" font-family="Liberation Sans, sans-serif" fill="#000" stroke="#000" stroke-width="0.3" textLength="47.04" lengthAdjust="spacingAndGlyphs">(GeV)</text>
<path d="M175.6,149.6 h6.4 M185.4,149.6 h2.5 M190.9,149.6 h6.9" stroke="#00cc00" stroke-width="2.4" fill="none"/>
<text x="207.90" y="153.90" font-size="13.4" font-family="Liberation Sans, sans-serif" fill="#000" stroke="#000" stroke-width="0.3" textLength="6.61" lengthAdjust="spacingAndGlyphs">n</text>
<text x="214.90" y="158.10" font-size="8.7" font-family="Liberation Sans, sans-serif" fill="#000" textLength="4.71" lengthAdjust="spacingAndGlyphs">e</text>
<text x="220.30" y="154.50" font-size="13.4" font-family="Liberation Sans, sans-serif" fill="#000" stroke="#000" stroke-width="0.3" textLength="7.99" lengthAdjust="spacingAndGlyphs">=</text>
<text x="229.30" y="153.90" font-size="13.4" font-family="Liberation Sans, sans-serif" fill="#000" stroke="#000" stroke-width="0.3" textLength="14.90" lengthAdjust="spacingAndGlyphs">10</text>
<text x="245.80" y="146.90" font-size="10.0" font-family="Liberation Sans, sans-serif" fill="#000" stroke="#000" stroke-width="0.15" textLength="10.00" lengthAdjust="spacingAndGlyphs">16</text>
<text x="256.25" y="153.90" font-size="13.4" font-family="Liberation Sans, sans-serif" fill="#000" stroke="#000" stroke-width="0.3" textLength="16.25" lengthAdjust="spacingAndGlyphs">cc,</text>
<g transform="translate(328.75,153.9)" fill="none" stroke="#000" stroke-linecap="round" stroke-linejoin="round"><path d="M0.15,-4.2 C0.5,-5.1 1.2,-4.9 1.45,-4.1 L2.65,-0.4 L2.6,2.6" stroke-width="1.0"/><path d="M4.95,-5.2 L2.8,-0.2" stroke-width="0.8"/><path d="M2.6,0.6 L2.6,2.6" stroke-width="1.25"/></g>
<text x="338.30" y="154.40" font-size="13.4" font-family="Liberation Sans, sans-serif" fill="#000" stroke="#000" stroke-width="0.3" textLength="8.09" lengthAdjust="spacingAndGlyphs">=</text>
<text x="350.70" y="153.90" font-size="13.4" font-family="Liberation Sans, sans-serif" fill="#000" stroke="#000" stroke-width="0.3" textLength="23.81" lengthAdjust="spacingAndGlyphs">400</text>
<path d="M176,173.0 H202" stroke="#000" stroke-width="2.4" fill="none"/>
<text x="207.90" y="176.60" font-size="13.4" font-family="Liberation Sans, sans-serif" fill="#000" stroke="#000" stroke-width="0.3" textLength="6.61" lengthAdjust="spacingAndGlyphs">n</text>
<text x="214.90" y="180.80" font-size="8.7" font-family="Liberation Sans, sans-serif" fill="#000" textLength="4.71" lengthAdjust="spacingAndGlyphs">e</text>
<text x="220.30" y="177.20" font-size="13.4" font-family="Liberation Sans, sans-serif" fill="#000" stroke="#000" stroke-width="0.3" textLength="7.99" lengthAdjust="spacingAndGlyphs">=</text>
<text x="229.30" y="176.60" font-size="13.4" font-family="Liberation Sans, sans-serif" fill="#000" stroke="#000" stroke-width="0.3" textLength="14.90" lengthAdjust="spacingAndGlyphs">10</text>
<text x="245.80" y="169.60" font-size="10.0" font-family="Liberation Sans, sans-serif" fill="#000" stroke="#000" stroke-width="0.15" textLength="10.00" lengthAdjust="spacingAndGlyphs">17</text>
<text x="256.25" y="176.60" font-size="13.4" font-family="Liberation Sans, sans-serif" fill="#000" stroke="#000" stroke-width="0.3" textLength="12.50" lengthAdjust="spacingAndGlyphs">cc</text>
<text x="274.00" y="176.60" font-size="13.4" font-family="Liberation Sans, sans-serif" fill="#000" stroke="#000" stroke-width="0.3" textLength="51.19" lengthAdjust="spacingAndGlyphs">(scaled),</text>
<g transform="translate(328.75,176.6)" fill="none" stroke="#000" stroke-linecap="round" stroke-linejoin="round"><path d="M0.15,-4.2 C0.5,-5.1 1.2,-4.9 1.45,-4.1 L2.65,-0.4 L2.6,2.6" stroke-width="1.0"/><path d="M4.95,-5.2 L2.8,-0.2" stroke-width="0.8"/><path d="M2.6,0.6 L2.6,2.6" stroke-width="1.25"/></g>
<text x="338.30" y="177.10" font-size="13.4" font-family="Liberation Sans, sans-serif" fill="#000" stroke="#000" stroke-width="0.3" textLength="8.09" lengthAdjust="spacingAndGlyphs">=</text>
<text x="352.00" y="176.60" font-size="13.4" font-family="Liberation Sans, sans-serif" fill="#000" stroke="#000" stroke-width="0.3" textLength="22.51" lengthAdjust="spacingAndGlyphs">120</text>
<path d="M175.6,196.0 h6.5 M188.1,196.0 h6.3" stroke="#0060ff" stroke-width="2.3" fill="none"/>
<text x="207.90" y="200.00" font-size="13.4" font-family="Liberation Sans, sans-serif" fill="#000" stroke="#000" stroke-width="0.3" textLength="6.61" lengthAdjust="spacingAndGlyphs">n</text>
<text x="214.90" y="204.20" font-size="8.7" font-family="Liberation Sans, sans-serif" fill="#000" textLength="4.71" lengthAdjust="spacingAndGlyphs">e</text>
<text x="220.30" y="200.60" font-size="13.4" font-family="Liberation Sans, sans-serif" fill="#000" stroke="#000" stroke-width="0.3" textLength="7.99" lengthAdjust="spacingAndGlyphs">=</text>
<text x="229.30" y="200.00" font-size="13.4" font-family="Liberation Sans, sans-serif" fill="#000" stroke="#000" stroke-width="0.3" textLength="14.90" lengthAdjust="spacingAndGlyphs">10</text>
<text x="245.80" y="193.00" font-size="10.0" font-family="Liberation Sans, sans-serif" fill="#000" stroke="#000" stroke-width="0.15" textLength="10.00" lengthAdjust="spacingAndGlyphs">18</text>
<text x="256.25" y="200.00" font-size="13.4" font-family="Liberation Sans, sans-serif" fill="#000" stroke="#000" stroke-width="0.3" textLength="12.50" lengthAdjust="spacingAndGlyphs">cc</text>
<text x="274.00" y="200.00" font-size="13.4" font-family="Liberation Sans, sans-serif" fill="#000" stroke="#000" stroke-width="0.3" textLength="51.19" lengthAdjust="spacingAndGlyphs">(scaled),</text>
<g transform="translate(328.75,200.0)" fill="none" stroke="#000" stroke-linecap="round" stroke-linejoin="round"><path d="M0.15,-4.2 C0.5,-5.1 1.2,-4.9 1.45,-4.1 L2.65,-0.4 L2.6,2.6" stroke-width="1.0"/><path d="M4.95,-5.2 L2.8,-0.2" stroke-width="0.8"/><path d="M2.6,0.6 L2.6,2.6" stroke-width="1.25"/></g>
<text x="338.30" y="200.50" font-size="13.4" font-family="Liberation Sans, sans-serif" fill="#000" stroke="#000" stroke-width="0.3" textLength="8.09" lengthAdjust="spacingAndGlyphs">=</text>
<text x="350.70" y="200.00" font-size="13.4" font-family="Liberation Sans, sans-serif" fill="#000" stroke="#000" stroke-width="0.3" textLength="15.30" lengthAdjust="spacingAndGlyphs">40</text>
<path d="M175.80,219.1 h1.6 M178.57,219.1 h1.6 M181.34,219.1 h1.6 M184.11,219.1 h1.6 M186.88,219.1 h1.6 M189.65,219.1 h1.6 M192.42,219.1 h1.6 M195.19,219.1 h1.6 M197.96,219.1 h1.6" stroke="#ff2a00" stroke-width="2.2" fill="none"/>
<text x="207.90" y="223.50" font-size="13.4" font-family="Liberation Sans, sans-serif" fill="#000" stroke="#000" stroke-width="0.3" textLength="6.61" lengthAdjust="spacingAndGlyphs">n</text>
<text x="214.90" y="227.70" font-size="8.7" font-family="Liberation Sans, sans-serif" fill="#000" textLength="4.71" lengthAdjust="spacingAndGlyphs">e</text>
<text x="220.30" y="224.10" font-size="13.4" font-family="Liberation Sans, sans-serif" fill="#000" stroke="#000" stroke-width="0.3" textLength="7.99" lengthAdjust="spacingAndGlyphs">=</text>
<text x="229.30" y="223.50" font-size="13.4" font-family="Liberation Sans, sans-serif" fill="#000" stroke="#000" stroke-width="0.3" textLength="14.90" lengthAdjust="spacingAndGlyphs">10</text>
<text x="245.80" y="216.50" font-size="10.0" font-family="Liberation Sans, sans-serif" fill="#000" stroke="#000" stroke-width="0.15" textLength="10.00" lengthAdjust="spacingAndGlyphs">19</text>
<text x="256.25" y="223.50" font-size="13.4" font-family="Liberation Sans, sans-serif" fill="#000" stroke="#000" stroke-width="0.3" textLength="12.50" lengthAdjust="spacingAndGlyphs">cc</text>
<text x="274.00" y="223.50" font-size="13.4" font-family="Liberation Sans, sans-serif" fill="#000" stroke="#000" stroke-width="0.3" textLength="51.19" lengthAdjust="spacingAndGlyphs">(scaled),</text>
<g transform="translate(328.75,223.5)" fill="none" stroke="#000" stroke-linecap="round" stroke-linejoin="round"><path d="M0.15,-4.2 C0.5,-5.1 1.2,-4.9 1.45,-4.1 L2.65,-0.4 L2.6,2.6" stroke-width="1.0"/><path d="M4.95,-5.2 L2.8,-0.2" stroke-width="0.8"/><path d="M2.6,0.6 L2.6,2.6" stroke-width="1.25"/></g>
<text x="338.30" y="224.00" font-size="13.4" font-family="Liberation Sans, sans-serif" fill="#000" stroke="#000" stroke-width="0.3" textLength="8.09" lengthAdjust="spacingAndGlyphs">=</text>
<text x="352.00" y="223.50" font-size="13.4" font-family="Liberation Sans, sans-serif" fill="#000" stroke="#000" stroke-width="0.3" textLength="14.20" lengthAdjust="spacingAndGlyphs">12</text>
</svg>
</body></html>
